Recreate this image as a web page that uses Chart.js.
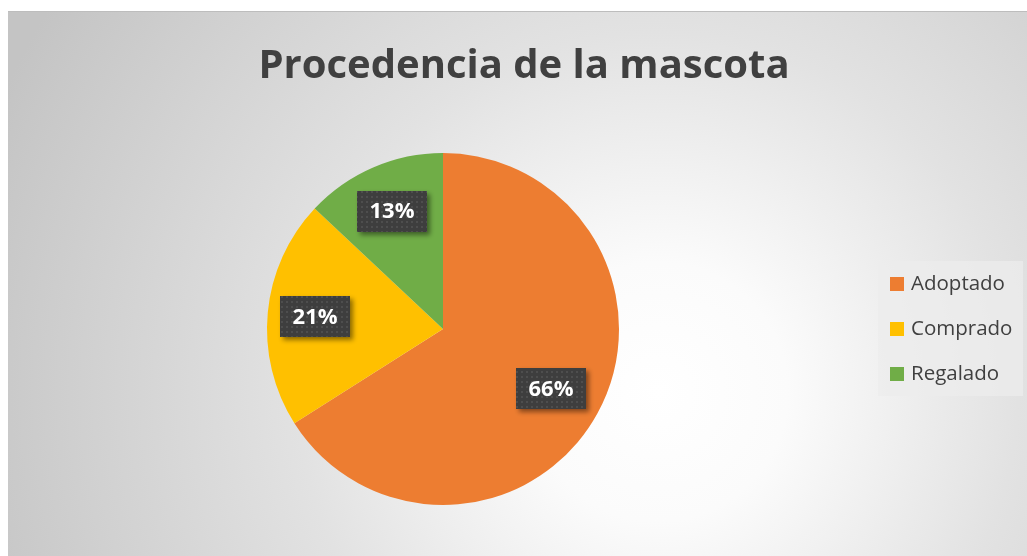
<!DOCTYPE html>
<html>
<head>
<meta charset="utf-8">
<script src="https://cdn.jsdelivr.net/npm/chart.js@4.4.0/dist/chart.umd.min.js"></script>
<style>
  html, body { margin: 0; padding: 0; background: #fff; }
  #frame {
    position: absolute; left: 8px; top: 11px; width: 1019px; height: 545px;
    background: radial-gradient(circle 720px at 650px 380px, #ffffff 0%, #fbfbfb 18%, #e2e2e2 50%, #c4c4c4 100%);
    border-top: 1px solid #bdbdbd;
  }
  #c { position: absolute; left: 0; top: 0; }
</style>
</head>
<body>
<div id="frame"></div>
<canvas id="c" width="1027" height="556"></canvas>
<script>
const TITLE = "Procedencia de la mascota";
const LABELS = ["Adoptado", "Comprado", "Regalado"];
const VALUES = [66, 21, 13];
const COLORS = ["#ed7d31", "#ffc000", "#70ad47"];

// dotted fill for the data label boxes
function makePattern(ctx) {
  const p = document.createElement("canvas");
  p.width = 5; p.height = 5;
  const pc = p.getContext("2d");
  pc.fillStyle = "#3e3e3e";
  pc.fillRect(0, 0, 5, 5);
  pc.fillStyle = "#4e4e4e";
  pc.fillRect(1, 1, 2, 2);
  return ctx.createPattern(p, "repeat");
}

const titlePlugin = {
  id: "titleText",
  afterDraw(chart) {
    const ctx = chart.ctx;
    ctx.save();
    ctx.fillStyle = "#404040";
    ctx.font = "bold 40px 'Open Sans'";
    ctx.textAlign = "center";
    ctx.textBaseline = "alphabetic";
    ctx.fillText(TITLE, 524, 78);
    ctx.restore();
  },
};

const labelPlugin = {
  id: "pctLabels",
  afterDatasetsDraw(chart) {
    const ctx = chart.ctx;
    const meta = chart.getDatasetMeta(0);
    const data = chart.data.datasets[0].data;
    const total = data.reduce((a, b) => a + b, 0);
    const pattern = makePattern(ctx);
    meta.data.forEach((arc, i) => {
      const p = arc.getProps(["x", "y", "startAngle", "endAngle", "outerRadius"]);
      const mid = (p.startAngle + p.endAngle) / 2;
      const r = p.outerRadius * (i === 0 ? 0.7 : 0.73);
      const cx = p.x + Math.cos(mid) * r;
      const cy = p.y + Math.sin(mid) * r;
      const w = 70, h = 41;
      ctx.save();
      ctx.shadowColor = "rgba(0,0,0,0.45)";
      ctx.shadowBlur = 5;
      ctx.shadowOffsetX = 3;
      ctx.shadowOffsetY = 3;
      ctx.fillStyle = pattern;
      ctx.fillRect(Math.round(cx - w / 2), Math.round(cy - h / 2), w, h);
      ctx.restore();
      ctx.save();
      ctx.fillStyle = "#ffffff";
      ctx.font = "bold 22px 'Open Sans'";
      ctx.textAlign = "center";
      ctx.textBaseline = "middle";
      ctx.fillText(Math.round((data[i] / total) * 100) + "%", cx, cy + 1);
      ctx.restore();
    });
  },
};

const legendPlugin = {
  id: "sideLegend",
  afterDraw(chart) {
    const ctx = chart.ctx;
    const colors = chart.data.datasets[0].backgroundColor;
    ctx.save();
    ctx.fillStyle = "rgba(236,236,236,0.75)";
    ctx.fillRect(878, 261, 145, 135);
    ctx.font = "20.5px 'Open Sans'";
    ctx.textBaseline = "middle";
    chart.data.labels.forEach((lb, i) => {
      const y = 284 + i * 45;
      ctx.fillStyle = colors[i];
      ctx.fillRect(890, y - 7, 14, 14);
      ctx.fillStyle = "#404040";
      ctx.fillText(lb, 911, y);
    });
    ctx.restore();
  },
};

new Chart(document.getElementById("c"), {
  type: "pie",
  data: {
    labels: LABELS,
    datasets: [{
      data: VALUES,
      backgroundColor: COLORS,
      borderWidth: 0,
    }],
  },
  options: {
    responsive: false,
    animation: false,
    layout: { padding: { top: 153, bottom: 51, left: 267, right: 408 } },
    plugins: {
      legend: { display: false },
      tooltip: { enabled: false },
      title: { display: false },
    },
  },
  plugins: [titlePlugin, labelPlugin, legendPlugin],
});
</script>
</body>
</html>
